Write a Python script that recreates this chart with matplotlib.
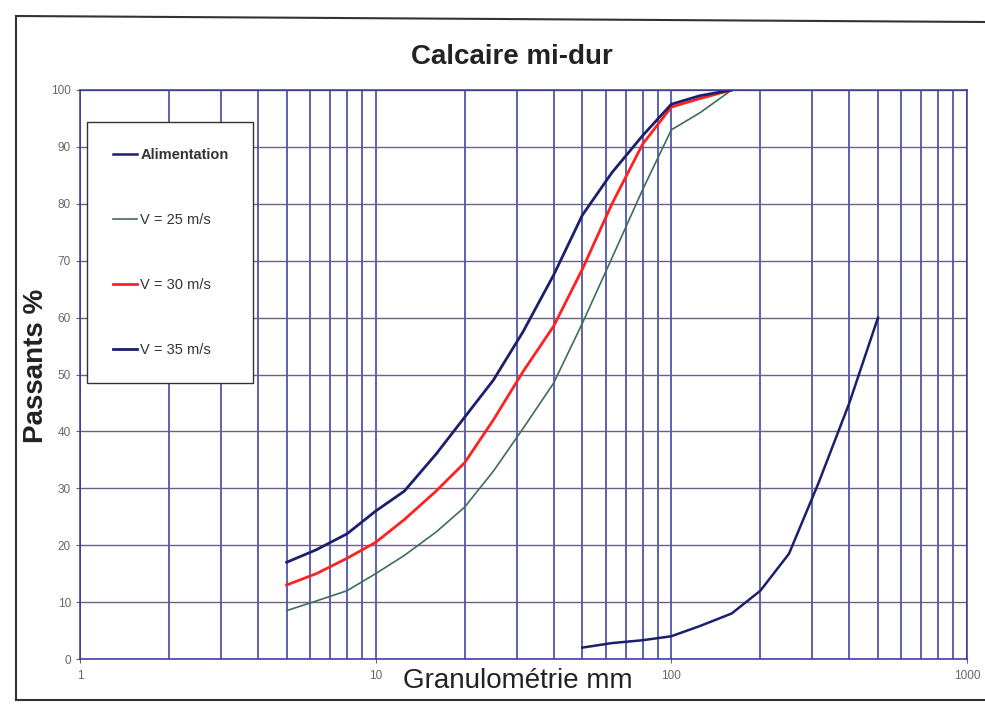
import matplotlib
matplotlib.use("Agg")
import matplotlib.pyplot as plt
from matplotlib.lines import Line2D
from matplotlib.ticker import FixedLocator, NullFormatter

plt.rcParams['font.family'] = ['Liberation Sans', 'DejaVu Sans']

# === Data ===
sizes = [5, 6.3, 8, 10, 12.5, 16, 20, 25, 31.5, 40, 50, 63, 80, 100, 125, 160]
v25 = [8.5, 10.2, 12, 15, 18.2, 22.3, 26.7, 33, 40.5, 48.5, 59, 70.5, 82.5, 93, 96, 100]
v30 = [13, 15, 17.7, 20.5, 24.5, 29.5, 34.5, 42, 50.5, 58.5, 68.5, 80, 90.5, 97, 98.5, 100]
v35 = [17, 19.2, 22, 26, 29.5, 36, 42.5, 49, 57.5, 67.5, 78, 85.5, 92, 97.5, 99, 100]

feed_sizes = [50, 63, 80, 100, 125, 160, 200, 250, 315, 400, 500]
feed = [2, 2.8, 3.3, 4, 5.8, 8, 12, 18.5, 31, 45, 60]

navy = '#1c1f6b'
grid_v = '#3237a0'
grid_h = '#6b5f86'

fig = plt.figure(figsize=(9.85, 7.06), dpi=100)
ax = fig.add_axes([80 / 985, 1 - 659 / 706, 887 / 985, 569 / 706])

ax.plot(feed_sizes, feed, color=navy, lw=1.8, label='Alimentation')
ax.plot(sizes, v25, color='#3e6e55', lw=1.2, label='V = 25 m/s')
ax.plot(sizes, v30, color='#ff2020', lw=2.0, label='V = 30 m/s')
ax.plot(sizes, v35, color=navy, lw=2.0, label='V = 35 m/s')

ax.set_xscale('log')
ax.set_xlim(1, 1000)
ax.set_ylim(0, 100)
ax.set_yticks(range(0, 101, 10))
ax.xaxis.set_major_locator(FixedLocator([1, 10, 100, 1000]))
ax.xaxis.set_minor_locator(FixedLocator([m * d for d in (1, 10, 100) for m in range(2, 10)]))
ax.xaxis.set_minor_formatter(NullFormatter())
ax.set_xticklabels(['1', '10', '100', '1000'])

ax.grid(True, which='both', axis='x', color=grid_v, lw=1.1)
ax.grid(True, which='major', axis='y', color=grid_h, lw=1.0)
ax.set_axisbelow(True)
for s in ax.spines.values():
    s.set_color(grid_v)
    s.set_linewidth(1.1)

ax.tick_params(axis='both', which='major', labelsize=8.5, colors='#666666', length=3, width=0.8)
ax.tick_params(axis='x', which='minor', length=0)
ax.tick_params(axis='x', which='major', pad=5)

# legend box (frame spans roughly x 87-253 px, y 122-388 px)
leg = ax.legend(loc='upper left', bbox_to_anchor=(7 / 887, 0.476, 166 / 887, 0.468),
                mode='expand', borderaxespad=0, fontsize=10.5,
                labelspacing=3.5, handlelength=1.65, handletextpad=0.2,
                borderpad=1.8, fancybox=False, framealpha=1, edgecolor='#333333')
leg.get_frame().set_linewidth(1.0)
for t in leg.get_texts():
    t.set_color('#333333')
leg.get_texts()[0].set_fontweight('bold')

fig.text(0.52, 0.919, 'Calcaire mi-dur', ha='center', va='center', fontsize=20, fontweight='bold', color='#222222')
fig.text(0.526, 0.035, 'Granulométrie mm', ha='center', va='center', fontsize=20, color='#222222')
fig.text(0.037, 0.482, 'Passants %', ha='center', va='center', rotation=90, fontsize=20, fontweight='bold', color='#222222')

# scanned page frame
fig.add_artist(Line2D([16 / 985, 16 / 985], [1 - 16 / 706, 1 - 700 / 706], transform=fig.transFigure, color='#333333', lw=1.5))
fig.add_artist(Line2D([16 / 985, 1.0], [1 - 16 / 706, 1 - 22 / 706], transform=fig.transFigure, color='#333333', lw=1.5))
fig.add_artist(Line2D([16 / 985, 1.0], [1 - 700 / 706, 1 - 700 / 706], transform=fig.transFigure, color='#333333', lw=1.5))

fig.savefig('out.png', dpi=100)
